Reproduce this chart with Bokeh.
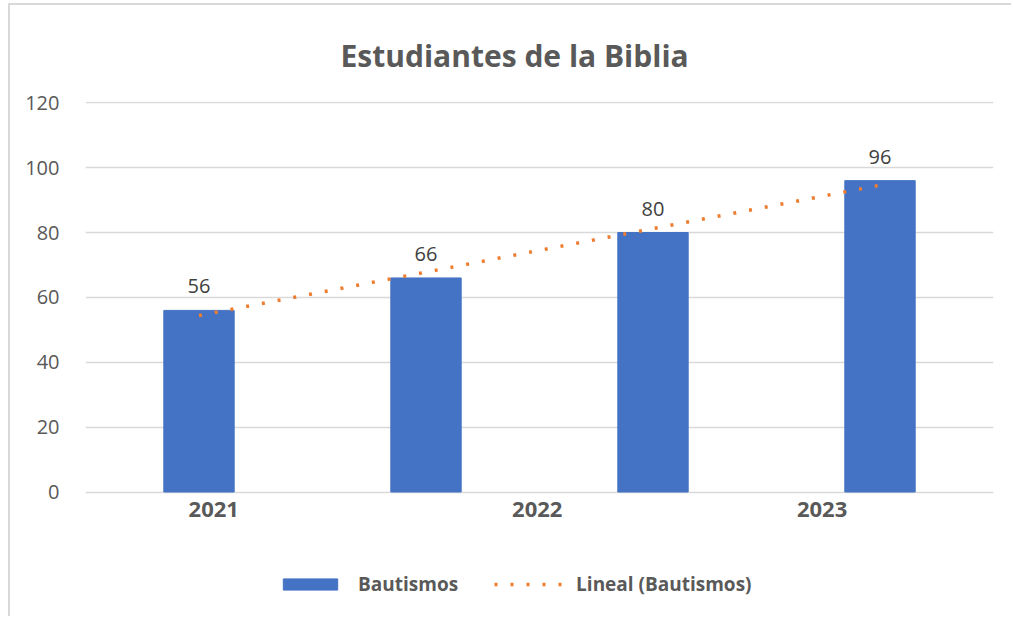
import numpy as np
from bokeh.plotting import figure
from bokeh.models import (ColumnDataSource, LabelSet, FixedTicker, Legend, LegendItem, Range1d)
from bokeh.core.properties import value
from bokeh.embed import file_html
from bokeh.resources import INLINE

# ---- data ----
series_name = "Bautismos"
trend_name = "Lineal (Bautismos)"
values = [56, 66, 80, 96]
tick_labels = ["2021", "2022", "2023"]
y_ticks = [0, 20, 40, 60, 80, 100, 120]
title_text = "Estudiantes de la Biblia"

# ---- layout constants ----
FONT = "Open Sans"
BAR_COLOR = "#4472C4"
TREND_COLOR = "#ED7D31"
GRID_COLOR = "#D9D9D9"
TEXT_COLOR = "#595959"
tick_positions = [0.565, 1.99, 3.245]   # where the (offset) category labels sit
Y_BOTTOM = -39.0                        # frame extends below zero to hold labels and legend

x = [i + 0.5 for i in range(len(values))]
src = ColumnDataSource(dict(x=x, top=values, lbl=[str(v) for v in values]))
xsrc = ColumnDataSource(dict(x=tick_positions, y=[0] * len(tick_labels), lbl=tick_labels))

# linear trendline fitted to the series
coef = np.polyfit(np.arange(1, len(values) + 1), values, 1)
trend_y = list(np.polyval(coef, np.arange(1, len(values) + 1)))
tsrc = ColumnDataSource(dict(x=x, y=trend_y))

p = figure(width=1003, height=613, output_backend="svg", toolbar_location=None,
           x_range=Range1d(0, len(values)), y_range=Range1d(Y_BOTTOM, 120.4),
           x_axis_location=None,
           min_border_left=75, min_border_right=20, min_border_top=96, min_border_bottom=0)
p.styles = {"margin-left": "8px", "border-left": "2px solid #D9D9D9",
            "margin-top": "3px", "border-top": "2px solid #D9D9D9"}

p.title.text = title_text
p.title.text_font = FONT
p.title.text_font_size = "30px"
p.title.text_font_style = "bold"
p.title.text_color = TEXT_COLOR
p.title.align = "left"
p.title.offset = 255
p.title.standoff = 52

bars = p.vbar(x="x", top="top", width=0.31, source=src, color=BAR_COLOR)
trend = p.line(x="x", y="y", source=tsrc, line_color=TREND_COLOR, line_width=3.5,
               line_dash="3 13", line_cap="butt")

labels = LabelSet(x="x", y="top", text="lbl", source=src, y_offset=17,
                  text_align="center", text_baseline="bottom",
                  text_font=value(FONT), text_font_size="20px", text_color="#404040")
p.add_layout(labels)

xlabels = LabelSet(x="x", y="y", text="lbl", source=xsrc, y_offset=-10,
                   text_align="center", text_baseline="top",
                   text_font=value(FONT), text_font_size="22px", text_font_style="bold",
                   text_color=TEXT_COLOR)
p.add_layout(xlabels)

# y axis
p.yaxis.ticker = FixedTicker(ticks=y_ticks)
p.yaxis.axis_line_color = None
p.yaxis.major_tick_line_color = None
p.yaxis.minor_tick_line_color = None
p.yaxis.major_label_text_font = FONT
p.yaxis.major_label_text_font_size = "20px"
p.yaxis.major_label_text_color = TEXT_COLOR
p.yaxis.major_label_standoff = 20

p.xgrid.grid_line_color = None
p.ygrid.grid_line_color = GRID_COLOR
p.ygrid.grid_line_width = 1.3
p.ygrid.ticker = FixedTicker(ticks=y_ticks)
p.outline_line_color = None

legend = Legend(items=[LegendItem(label=series_name, renderers=[bars]),
                       LegendItem(label=trend_name, renderers=[trend])],
                orientation="horizontal", location=(191, 21),
                glyph_width=68, glyph_height=14, label_standoff=14, spacing=36,
                label_text_font=FONT, label_text_font_size="19px",
                label_text_font_style="bold", label_text_color=TEXT_COLOR,
                border_line_color=None, background_fill_alpha=0, padding=0, margin=0)
p.add_layout(legend, "center")

open("out.html", "w").write(file_html(p, INLINE))
